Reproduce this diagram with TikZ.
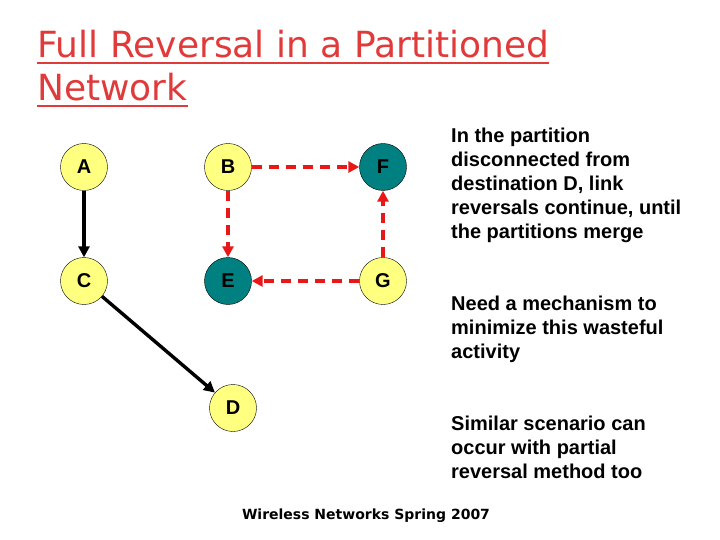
\documentclass[tikz,border=0pt]{standalone}
\usepackage{fontspec}
\setmainfont{Liberation Sans}
\newfontfamily\titlefont{DejaVu Sans}
\usetikzlibrary{positioning, arrows.meta}
\definecolor{nodeyellow}{HTML}{FFFF80}
\definecolor{nodeteal}{HTML}{008080}
\definecolor{titlered}{HTML}{E03A3A}
\definecolor{linkred}{HTML}{E81818}

\begin{document}
\begin{tikzpicture}[x=1pt, y=-1pt,
    every node/.style={font=\bfseries\fontsize{20}{24}\selectfont},
    host/.style={circle, draw, thin, fill=#1, minimum size=47pt, inner sep=0pt},
    link/.style={-{Triangle[length=11pt,width=11pt]}, line width=3.4pt},
    revlink/.style={link, linkred, dash pattern=on 10pt off 7pt},
    note/.style={anchor=north west, align=left, inner sep=0pt},
    heading/.style={anchor=base west, inner sep=0pt, text=titlered,
                    font=\titlefont\fontsize{36}{43}\selectfont},
    rule/.style={titlered, line width=2.4pt},
  ]
  \useasboundingbox (0,0) rectangle (720,540);

  % title
  \node[heading] (title1) at (37,58) {Full Reversal in a Partitioned};
  \node[heading] (title2) at (37,101) {Network};
  \draw[rule] ([yshift=-5pt]title1.base west) -- ([yshift=-5pt]title1.base east);
  \draw[rule] ([yshift=-5pt]title2.base west) -- ([yshift=-5pt]title2.base east);

  % hosts
  \node[host=nodeyellow] (a) at (84,167) {A};
  \node[host=nodeyellow] (b) at (228,167) {B};
  \node[host=nodeteal]   (f) at (383,167) {F};
  \node[host=nodeyellow] (c) at (84,281) {C};
  \node[host=nodeteal]   (e) at (228,281) {E};
  \node[host=nodeyellow] (g) at (383,281) {G};
  \node[host=nodeyellow] (d) at (233,408) {D};

  % links
  \draw[link] (a) -- (c);
  \draw[link] (c) -- (d);
  \draw[revlink] (b) -- (f);
  \draw[revlink] (b) -- (e);
  \draw[revlink] (g) -- (f);
  \draw[revlink] (g) -- (e);

  % remarks
  \node[note] (rem1) at (451,128)
    {In the partition\\disconnected from\\destination D, link\\reversals continue, until\\the partitions merge};
  \node[note] (rem2) at (451,296)
    {Need a mechanism to\\minimize this wasteful\\activity};
  \node[note] (rem3) at (451,416)
    {Similar scenario can\\occur with partial\\reversal method too};

  \node[font=\titlefont\bfseries\fontsize{14}{16}\selectfont] (foot) at (366,516)
    {Wireless Networks Spring 2007};
\end{tikzpicture}
\end{document}
